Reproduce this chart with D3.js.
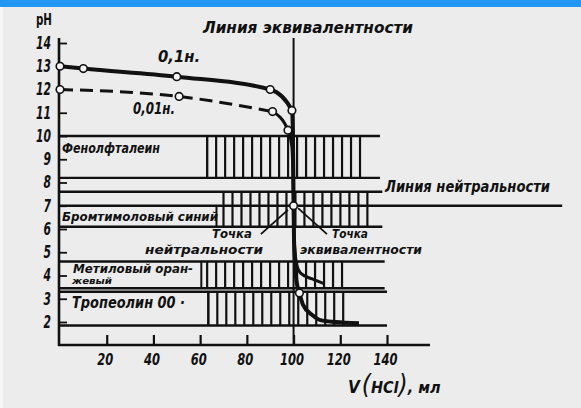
<!DOCTYPE html>
<html>
<head>
<meta charset="utf-8">
<script src="https://cdn.jsdelivr.net/npm/d3@7/dist/d3.min.js"></script>
<style>
body { margin: 0; background: #ececec; overflow: hidden; }
text { font-family: "DejaVu Sans", sans-serif; font-stretch: condensed; font-weight: bold; font-style: italic; fill: #111; }
</style>
</head>
<body>
<div class="graph"></div>
<script>
// ---- data ----
var volTicks = [20, 40, 60, 80, 100, 120, 140]
var phTicks = [2, 3, 4, 5, 6, 7, 8, 9, 10, 11, 12, 13, 14]

// 0,1 н. solution (ml HCl, pH)
var vol01 = [0, 10, 50, 90, 99.3, 99.7, 99.9, 100, 100.2, 100.6, 101.2, 102.5, 104, 108, 111.5, 118, 128]
var ph01 = [13.0, 12.9, 12.55, 12.0, 11.1, 10.2, 8.5, 7.0, 5.5, 4.6, 3.8, 3.25, 2.75, 2.3, 2.08, 2.0, 1.95]
var marks01 = [0, 1, 2, 3, 4, 11]

// 0,01 н. solution
var vol001 = [0, 51, 91, 97.6, 99.3, 99.8, 100, 100.3, 101.5, 103, 108, 113]
var ph001 = [12.0, 11.7, 11.05, 10.25, 9.5, 8.0, 7.0, 5.5, 4.4, 4.1, 3.85, 3.65]
var marks001 = [0, 1, 2, 3]
var dashedUntil = 2

// indicators: pH range, hatched ml range, label box end, band line end
var indNames = ["Фенолфталеин", "Бромтимоловый синий", "Метиловый оранжевый", "Тропеолин 00"]
var indLow = [8.2, 6.1, 3.45, 1.85]
var indHigh = [10.0, 7.6, 4.6, 3.3]
var hatchFrom = [63, 70, 63, 63.5]
var hatchTo = [132, 132, 121, 122]
var boxEnd = [63, 67, 60.5, 63.5]
var lineEnd = [137, 138, 139, 140]

var eqVolume = 100
var neutralPh = 7
var neutralEnd = 215

// ---- canvas ----
var W = 581, H = 408
var svg = d3.select('.graph').append('svg')
    .attr('width', W).attr('height', H)

svg.append('rect').attr('width', W).attr('height', H).attr('fill', '#ececec')
svg.append('rect').attr('x', 0).attr('y', 7).attr('width', 3).attr('height', H).attr('fill', '#f7f7f7')
svg.append('rect').attr('width', W).attr('height', 7).attr('fill', '#2196f3')

var ink = '#111'
var x = d3.scaleLinear().domain([0, 140]).range([60, 387])
var y = d3.scaleLinear().domain([2, 14]).range([322, 43])
var axisX = 59, axisY = 345

var g = svg.append('g')

// indicator bands
indNames.forEach(function(name, i) {
    var band = g.append('g')
    ;[indHigh[i], indLow[i]].forEach(function(p) {
        band.append('line')
            .attr('x1', axisX).attr('x2', x(lineEnd[i]))
            .attr('y1', y(p)).attr('y2', y(p))
            .attr('stroke', ink).attr('stroke-width', 2.4)
    })
    band.selectAll('line.h')
        .data(d3.range(hatchFrom[i], hatchTo[i] + 0.1, 3.85))
        .enter().append('line')
        .attr('class', 'h')
        .attr('x1', function(d) { return x(d) }).attr('x2', function(d) { return x(d) })
        .attr('y1', y(indHigh[i])).attr('y2', y(indLow[i]))
        .attr('stroke', ink).attr('stroke-width', 2.2)
    band.append('line')
        .attr('x1', x(boxEnd[i])).attr('x2', x(boxEnd[i]))
        .attr('y1', y(i == 1 ? neutralPh : indHigh[i])).attr('y2', y(indLow[i]))
        .attr('stroke', ink).attr('stroke-width', 2)
})

// neutrality line
g.append('line')
    .attr('x1', axisX).attr('x2', x(neutralEnd))
    .attr('y1', y(neutralPh)).attr('y2', y(neutralPh))
    .attr('stroke', ink).attr('stroke-width', 2.4)

// equivalence line
g.append('line')
    .attr('x1', x(eqVolume)).attr('x2', x(eqVolume))
    .attr('y1', 38).attr('y2', axisY)
    .attr('stroke', ink).attr('stroke-width', 2)

// axes
var xAxis = d3.axisBottom(x).tickValues(volTicks).tickSizeInner(-10).tickSizeOuter(0).tickPadding(9)
var xg = g.append('g').attr('transform', 'translate(0,' + axisY + ')').call(xAxis)
xg.select('.domain').remove()
xg.selectAll('line').attr('stroke', ink).attr('stroke-width', 2.2)
xg.selectAll('text').attr('font-size', 16).attr('fill', ink).attr('dx', -2)
    .attr('textLength', function(d) { return String(d).length * 8 }).attr('lengthAdjust', 'spacingAndGlyphs')

var yAxis = d3.axisLeft(y).tickValues(phTicks).tickSizeInner(-8).tickSizeOuter(0).tickPadding(8)
var yg = g.append('g').attr('transform', 'translate(' + axisX + ',0)').call(yAxis)
yg.select('.domain').remove()
yg.selectAll('line').attr('stroke', ink).attr('stroke-width', 1.8)
yg.selectAll('text').attr('font-size', 17).attr('fill', ink)
    .attr('textLength', function(d) { return String(d).length * 7.5 }).attr('lengthAdjust', 'spacingAndGlyphs')

g.append('line').attr('x1', axisX).attr('x2', axisX).attr('y1', 38).attr('y2', axisY + 1)
    .attr('stroke', ink).attr('stroke-width', 2.6)
g.append('line').attr('x1', axisX - 1).attr('x2', 430).attr('y1', axisY).attr('y2', axisY)
    .attr('stroke', ink).attr('stroke-width', 2.6)

// curves
var line = d3.line()
    .x(function(d) { return x(d[0]) })
    .y(function(d) { return y(d[1]) })
    .curve(d3.curveMonotoneX)

var pts01 = d3.zip(vol01, ph01)
var pts001 = d3.zip(vol001, ph001)

g.append('path').attr('d', line(pts001.slice(0, dashedUntil + 1)))
    .attr('fill', 'none').attr('stroke', ink).attr('stroke-width', 3)
    .attr('stroke-dasharray', '13 7')
g.append('path').attr('d', line(pts001.slice(dashedUntil)))
    .attr('fill', 'none').attr('stroke', ink).attr('stroke-width', 3)
g.append('path').attr('d', line(pts01))
    .attr('fill', 'none').attr('stroke', ink).attr('stroke-width', 4)

// leader lines for the two points
var leaders = [[[86, 5.78], [97.6, 6.82]], [[114.3, 5.78], [101.9, 6.9]]]
leaders.forEach(function(l) {
    g.append('line')
        .attr('x1', x(l[0][0])).attr('y1', y(l[0][1]))
        .attr('x2', x(l[1][0])).attr('y2', y(l[1][1]))
        .attr('stroke', ink).attr('stroke-width', 1.8)
})

// markers
var markPts = marks01.map(function(i) { return pts01[i] })
    .concat(marks001.map(function(i) { return pts001[i] }))
    .concat([[eqVolume, neutralPh]])
g.selectAll('circle.m').data(markPts).enter().append('circle')
    .attr('class', 'm')
    .attr('cx', function(d) { return x(d[0]) }).attr('cy', function(d) { return y(d[1]) })
    .attr('r', 3.8).attr('fill', '#f5f5f5').attr('stroke', ink).attr('stroke-width', 1.6)

// texts
function label(t, tx, ty, size, len, upright) {
    var el = svg.append('text').attr('x', tx).attr('y', ty).attr('font-size', size).text(t)
    if (len) el.attr('textLength', len).attr('lengthAdjust', 'spacingAndGlyphs')
    if (upright) el.style('font-style', 'normal')
    return el
}
label('pH', 36, 25, 15, 16, true)
label('Линия эквивалентности', 203, 33, 15, 210)
label('0,1н.', 158, 62, 16, 42)
label('0,01н.', 133, 114, 16, 42)
label('Фенолфталеин', 62, 153, 14, 98)
label('Бромтимоловый синий', 62, 221, 13, 156)
label('Точка', 212, 238, 12, 40)
label('нейтральности', 145, 254, 13, 118)
label('Точка', 332, 238, 12, 36)
label('эквивалентности', 300, 254, 12.5, 122)
label('Линия нейтральности', 385, 192, 15, 165)
label('Метиловый оран-', 73, 273, 13, 120)
label('жевый', 72, 284, 9, 40)
label('Тропеолин 00 ·', 72, 308, 16, 113)

var vl = svg.append('text').attr('x', 348).attr('y', 393).attr('font-size', 17)
vl.append('tspan').text('V')
vl.append('tspan').attr('font-size', 26).attr('font-weight', 'normal').attr('dx', 2).text('(')
vl.append('tspan').attr('font-size', 16).text('HCl')
vl.append('tspan').attr('font-size', 26).attr('font-weight', 'normal').text(')')
vl.append('tspan').attr('font-size', 16).text(', мл')
</script>
</body>
</html>
